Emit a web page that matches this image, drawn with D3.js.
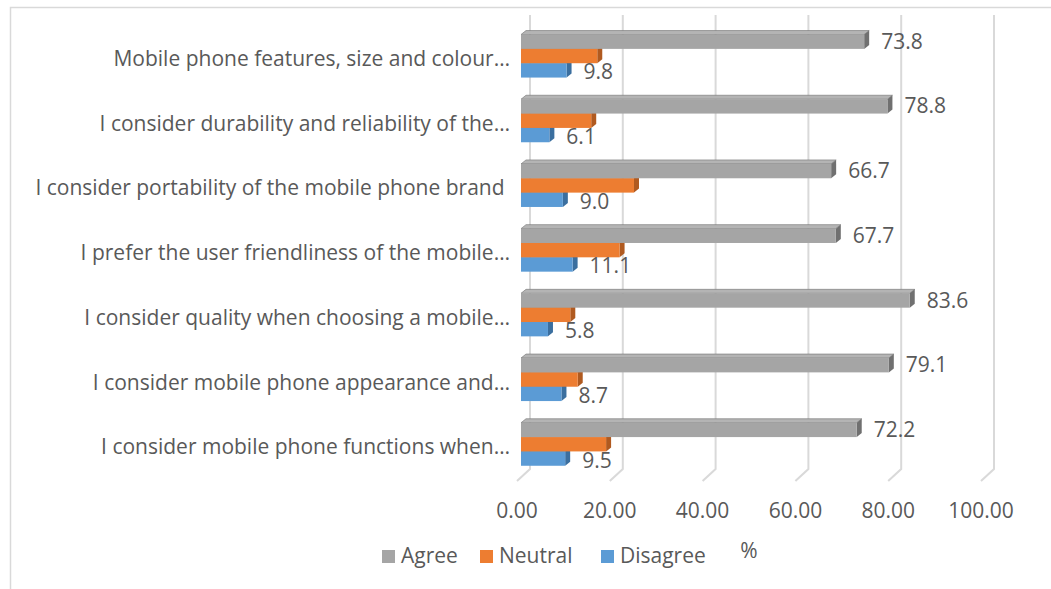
<!DOCTYPE html>
<html>
<head>
<meta charset="utf-8">
<script src="https://cdn.jsdelivr.net/npm/d3@7"></script>
<style>
  body { margin: 0; background: #fff; }
  svg { display: block; font-family: "Open Sans", sans-serif; }
  text { fill: #595959; }
</style>
</head>
<body>
<svg id="chart" width="1051" height="589"></svg>
<script>
// data
var categories = [
  "Mobile phone features, size and colour…",
  "I consider durability and reliability of the…",
  "I consider portability of the mobile phone brand ",
  "I prefer the user friendliness of the mobile…",
  "I consider quality when choosing a mobile…",
  "I consider mobile phone appearance and…",
  "I consider mobile phone functions when…"
];
var series = ["Agree", "Neutral", "Disagree"];
var agree = [73.8, 78.8, 66.7, 67.7, 83.6, 79.1, 72.2];
var neutral = [16.4, 15.1, 24.3, 21.2, 10.6, 12.2, 18.3];
var disagree = [9.8, 6.1, 9.0, 11.1, 5.8, 8.7, 9.5];
var ticks = [0, 20, 40, 60, 80, 100];

var colors = {
  Agree: { front: "#a5a5a5", top: "#b4b4b4", side: "#707070" },
  Neutral: { front: "#ed7d31", top: "#f08e4a", side: "#b05a20" },
  Disagree: { front: "#5b9bd5", top: "#74abdc", side: "#3b6f9f" }
};

var svg = d3.select("#chart");

// outer chart border
svg.append("rect").attr("x", 10.5).attr("y", 7.5).attr("width", 1100).attr("height", 700)
  .attr("fill", "none").attr("stroke", "#d9d9d9").attr("stroke-width", 1.5);

// scales: bars sit a bit in front of the back wall
var xBar = d3.scaleLinear().domain([0, 100]).range([521, 986]);
var xBack = d3.scaleLinear().domain([0, 100]).range([530, 994]);
var xFront = d3.scaleLinear().domain([0, 100]).range([517, 981]);

var y = d3.scaleBand().domain(categories).range([23.7, 476.6])
  .paddingInner(0.335).paddingOuter(0.1675);
var ySub = d3.scaleBand().domain(series).range([0, y.bandwidth()]);

var depthX = 5, depthY = -4;

// back wall gridlines + floor
var grid = svg.append("g");
ticks.forEach(t => {
  grid.append("path")
    .attr("d", "M" + xBack(t) + ",15 L" + xBack(t) + ",469 L" + xFront(t) + ",481")
    .attr("fill", "none").attr("stroke", "#d9d9d9").attr("stroke-width", 2);
});

// tick labels
svg.append("g").selectAll("text").data(ticks).join("text")
  .attr("x", d => xFront(d)).attr("y", 518)
  .attr("text-anchor", "middle").attr("font-size", 21)
  .text(d => d3.format(".2f")(d));

// bars
var rows = categories.map((c, i) => ({ cat: c, Agree: agree[i], Neutral: neutral[i], Disagree: disagree[i] }));

var barsG = svg.append("g");
// draw bottom series first so upper bars cover hidden faces
series.slice().reverse().forEach(s => {
  rows.forEach(r => {
    var x0 = xBar(0), x1 = xBar(r[s]);
    var y0 = y(r.cat) + ySub(s), h = ySub.bandwidth();
    var c = colors[s];
    var g = barsG.append("g");
    // top face
    g.append("path")
      .attr("d", "M" + x0 + "," + y0 + " L" + (x0 + depthX) + "," + (y0 + depthY) +
        " L" + (x1 + depthX) + "," + (y0 + depthY) + " L" + x1 + "," + y0 + "Z")
      .attr("fill", c.top).attr("stroke", c.side).attr("stroke-width", 0.6);
    // side face
    g.append("path")
      .attr("d", "M" + x1 + "," + y0 + " L" + (x1 + depthX) + "," + (y0 + depthY) +
        " L" + (x1 + depthX) + "," + (y0 + h + depthY) + " L" + x1 + "," + (y0 + h) + "Z")
      .attr("fill", c.side);
    // front face
    g.append("rect").attr("x", x0).attr("y", y0).attr("width", x1 - x0).attr("height", h)
      .attr("fill", c.front);
  });
});

// data labels (agree and disagree only)
var labelsG = svg.append("g").attr("font-size", 21);
["Agree", "Disagree"].forEach(s => {
  labelsG.selectAll(null).data(rows).join("text")
    .attr("x", d => xBar(d[s]) + 17)
    .attr("y", d => y(d.cat) + ySub(s) + ySub.bandwidth() / 2 + (s === "Agree" ? 7 : 9))
    .text(d => d3.format(".1f")(d[s]));
});

// category labels
svg.append("g").selectAll("text").data(categories).join("text")
  .attr("x", 510).attr("y", d => y(d) + y.bandwidth() / 2 + 10)
  .attr("text-anchor", "end").attr("font-size", 21)
  .style("white-space", "pre")
  .text(d => d);

// axis title
svg.append("text").attr("x", 749).attr("y", 558).attr("text-anchor", "middle")
  .attr("font-size", 21).text("%");

// legend
var legendX = [382, 480, 601];
var legend = svg.append("g").selectAll("g").data(series).join("g")
  .attr("transform", (d, i) => "translate(" + legendX[i] + ",550)");
legend.append("rect").attr("width", 13).attr("height", 13).attr("fill", d => colors[d].front);
legend.append("text").attr("x", 19).attr("y", 13).attr("font-size", 21).text(d => d);
</script>
</body>
</html>
